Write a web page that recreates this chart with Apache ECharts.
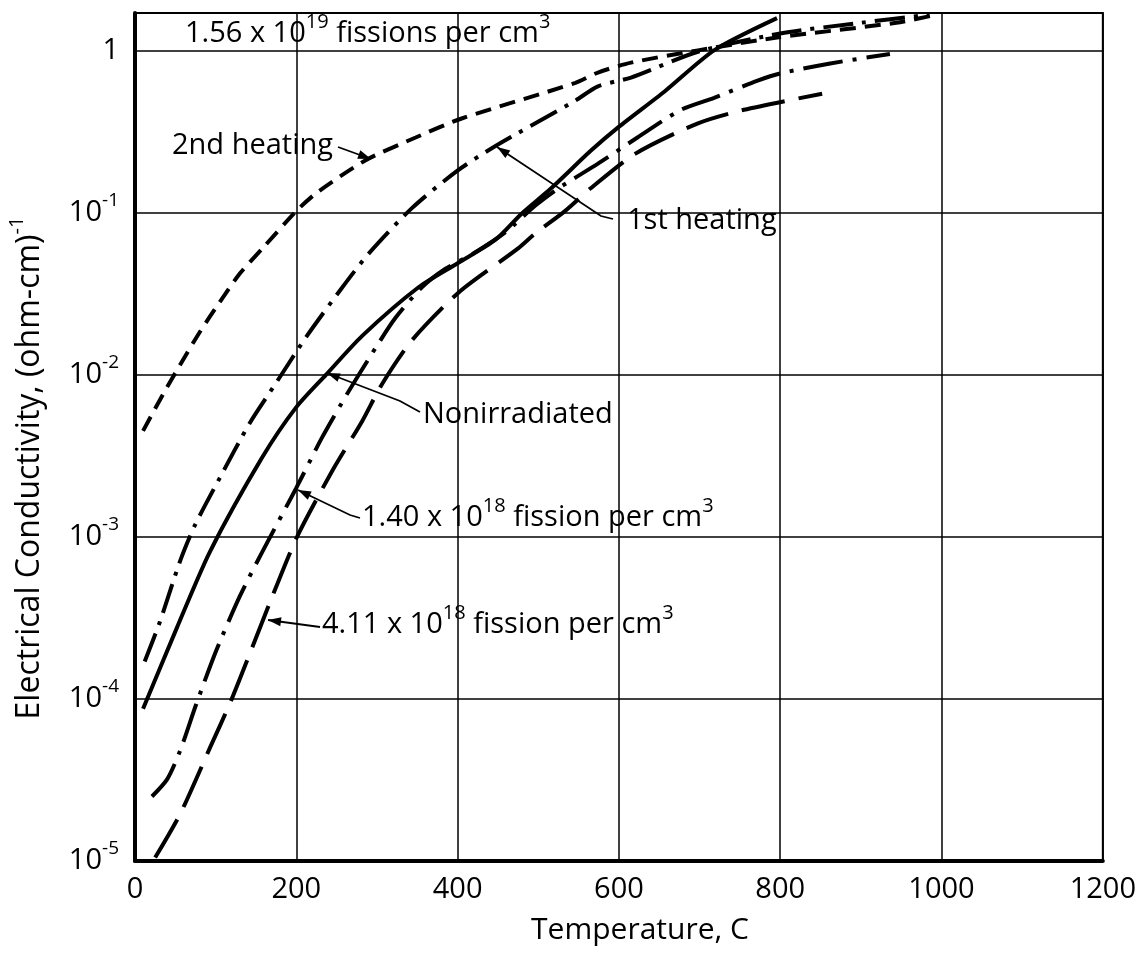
<!DOCTYPE html>
<html><head><meta charset="utf-8">
<script src="https://cdn.jsdelivr.net/npm/echarts@6/dist/echarts.min.js"></script>
<style>html,body{margin:0;padding:0;background:#fff}#c{width:1139px;height:965px}</style>
</head><body><div id="c"></div>
<script>
// ---- data (temperature in C, conductivity in (ohm-cm)^-1) ----
const xTickValues = [0, 200, 400, 600, 800, 1000, 1200];
const yTickExponents = [-5, -4, -3, -2, -1, 0];

const nonirrT = [10, 52, 93, 158, 200, 237, 282, 352, 401, 447, 479, 516, 565, 599, 657, 718, 796];
const nonirrS = [8.7e-5, 2.75e-4, 8.1e-4, 3.1e-3, 6.3e-3, 1.0e-2, 1.74e-2, 3.47e-2, 4.9e-2, 6.8e-2, 9.8e-2, 0.141, 0.24, 0.335, 0.56, 1.0, 1.58];

const heat1T = [12, 31, 56, 74, 105, 142, 175, 212, 256, 290, 343, 399, 447, 546, 574, 615, 698, 800, 900, 985];
const heat1S = [1.7e-4, 3.0e-4, 7.1e-4, 1.17e-3, 2.3e-3, 5.0e-3, 8.9e-3, 1.7e-2, 3.4e-2, 5.6e-2, 0.106, 0.18, 0.257, 0.49, 0.60, 0.68, 0.98, 1.27, 1.48, 1.66];

const heat2T = [10, 35, 56, 80, 105, 130, 158, 200, 225, 286, 348, 405, 546, 574, 615, 698, 796, 944, 994];
const heat2S = [4.5e-3, 7.6e-3, 1.15e-2, 1.82e-2, 2.8e-2, 4.2e-2, 6.0e-2, 0.102, 0.132, 0.21, 0.29, 0.38, 0.63, 0.73, 0.84, 1.0, 1.2, 1.48, 1.66];

const f140T = [21, 40, 56, 76, 101, 130, 158, 200, 232, 265, 299, 323, 356, 385, 420, 460, 496, 525, 574, 623, 677, 718, 772, 800, 862, 936];
const f140S = [2.5e-5, 3.2e-5, 4.8e-5, 9.3e-5, 2.0e-4, 4.3e-4, 8.1e-4, 2.0e-3, 4.1e-3, 7.9e-3, 1.48e-2, 2.24e-2, 3.47e-2, 4.5e-2, 5.6e-2, 7.6e-2, 0.11, 0.141, 0.20, 0.29, 0.43, 0.51, 0.65, 0.72, 0.83, 0.95];

const f411T = [25, 56, 93, 120, 167, 201, 245, 282, 306, 343, 401, 475, 496, 533, 565, 620, 698, 755, 852];
const f411S = [1.05e-5, 1.95e-5, 5.0e-5, 1.0e-4, 3.9e-4, 1.0e-3, 2.57e-3, 5.2e-3, 8.7e-3, 1.62e-2, 3.2e-2, 6.0e-2, 7.4e-2, 0.102, 0.141, 0.23, 0.355, 0.43, 0.54];

// ---- chart ----
const FONT = 'Open Sans';
const chart = echarts.init(document.getElementById('c'), null, {renderer: 'canvas'});

function ser(name, T, S, dash) {
  return {
    name: name, type: 'line', data: T.map((t, i) => [t, S[i]]),
    showSymbol: false, smooth: 0.25, silent: true, z: 5,
    lineStyle: {color: '#000', width: 4, type: dash, cap: 'butt'}
  };
}

function txt(x, y, text, size) {
  return {
    type: 'text', x: x, y: y, z: 20,
    style: {
      text: text, fontSize: size || 29, fontFamily: FONT, fill: '#000',
      textAlign: 'left', textVerticalAlign: 'middle',
      rich: {s: {fontSize: 20, fontFamily: FONT, fill: '#000', padding: [0, 0, 24, 0]}}
    }
  };
}

function leader(points) {
  const n = points.length;
  const [x1, y1] = points[n - 2], [x2, y2] = points[n - 1];
  const a = Math.atan2(y2 - y1, x2 - x1);
  const L = 13, W = 4.5;
  const bx = x2 - L * Math.cos(a), by = y2 - L * Math.sin(a);
  const head = [[x2, y2], [bx + W * Math.sin(a), by - W * Math.cos(a)], [bx - W * Math.sin(a), by + W * Math.cos(a)]];
  return [
    {type: 'polyline', z: 20, shape: {points: points}, style: {stroke: '#000', lineWidth: 1.8, fill: null}},
    {type: 'polygon', z: 20, shape: {points: head}, style: {fill: '#000'}}
  ];
}

const option = {
  animation: false,
  backgroundColor: '#fff',
  grid: {left: 135, right: 32, top: 13, bottom: 104, show: true, borderColor: '#000', borderWidth: 2, backgroundColor: 'transparent'},
  xAxis: {
    type: 'value', min: 0, max: 1200, interval: 200,
    axisLine: {show: true, lineStyle: {color: '#000', width: 4}},
    axisTick: {show: false},
    splitLine: {show: true, lineStyle: {color: '#000', width: 1.5}},
    axisLabel: {
      color: '#000', fontSize: 29, fontFamily: FONT, margin: 14,
      formatter: v => xTickValues.indexOf(v) >= 0 ? String(v) : ''
    }
  },
  yAxis: {
    type: 'log', logBase: 10, min: 1e-5, max: 1.7, splitNumber: 5,
    axisLine: {show: true, lineStyle: {color: '#000', width: 4}},
    axisTick: {show: false},
    minorTick: {show: false},
    splitLine: {show: true, lineStyle: {color: '#000', width: 1.5}},
    axisLabel: {
      color: '#000', fontFamily: FONT, margin: 16, align: 'right',
      formatter: function (v) {
        const lg = Math.log10(v), e = Math.round(lg);
        if (Math.abs(lg - e) > 0.01 || yTickExponents.indexOf(e) < 0) return '';
        if (e === 0) return '{b|1}';
        return '{b|10}{s|' + e + '}';
      },
      rich: {
        b: {fontSize: 29, fontFamily: FONT, color: '#000'},
        s: {fontSize: 19, fontFamily: FONT, color: '#000', padding: [0, 0, 24, 0]}
      }
    }
  },
  series: [
    ser('Nonirradiated', nonirrT, nonirrS, 'solid'),
    ser('1st heating', heat1T, heat1S, [30, 9, 4, 9]),
    ser('2nd heating', heat2T, heat2S, [16, 9]),
    ser('1.40 x 10^18 fission per cm^3', f140T, f140S, [40, 10, 4, 10]),
    ser('4.11 x 10^18 fission per cm^3', f411T, f411S, [44, 14])
  ],
  graphic: [].concat(
    [txt(185, 34, '1.56 x 10{s|19} fissions per cm{s|3}')],
    [txt(172, 146, '2nd heating')],
    leader([[338, 147], [371, 159]]),
    [txt(627, 221, '1st heating')],
    leader([[613, 219], [601, 216], [497, 147]]),
    [txt(423, 415, 'Nonirradiated')],
    leader([[420, 412], [400, 401], [327, 373]]),
    [txt(362, 518, '1.40 x 10{s|18} fission per cm{s|3}')],
    leader([[360, 518], [350, 515], [298, 490]]),
    [txt(322, 625, '4.11 x 10{s|18} fission per cm{s|3}')],
    leader([[320, 627], [268, 620]]),
    [{
      type: 'text', x: 640, y: 930, z: 20,
      style: {text: 'Temperature, C', fontSize: 30, fontFamily: FONT, fill: '#000', textAlign: 'center', textVerticalAlign: 'middle'}
    }, {
      type: 'text', x: 30, y: 468, rotation: Math.PI / 2, z: 20,
      style: {
        text: 'Electrical Conductivity, (ohm-cm){s|-1}', fontSize: 32, fontFamily: FONT, fill: '#000',
        textAlign: 'center', textVerticalAlign: 'middle',
        rich: {s: {fontSize: 20, fontFamily: FONT, fill: '#000', padding: [0, 0, 26, 0]}}
      }
    }]
  )
};
chart.setOption(option);
</script>
</body></html>
